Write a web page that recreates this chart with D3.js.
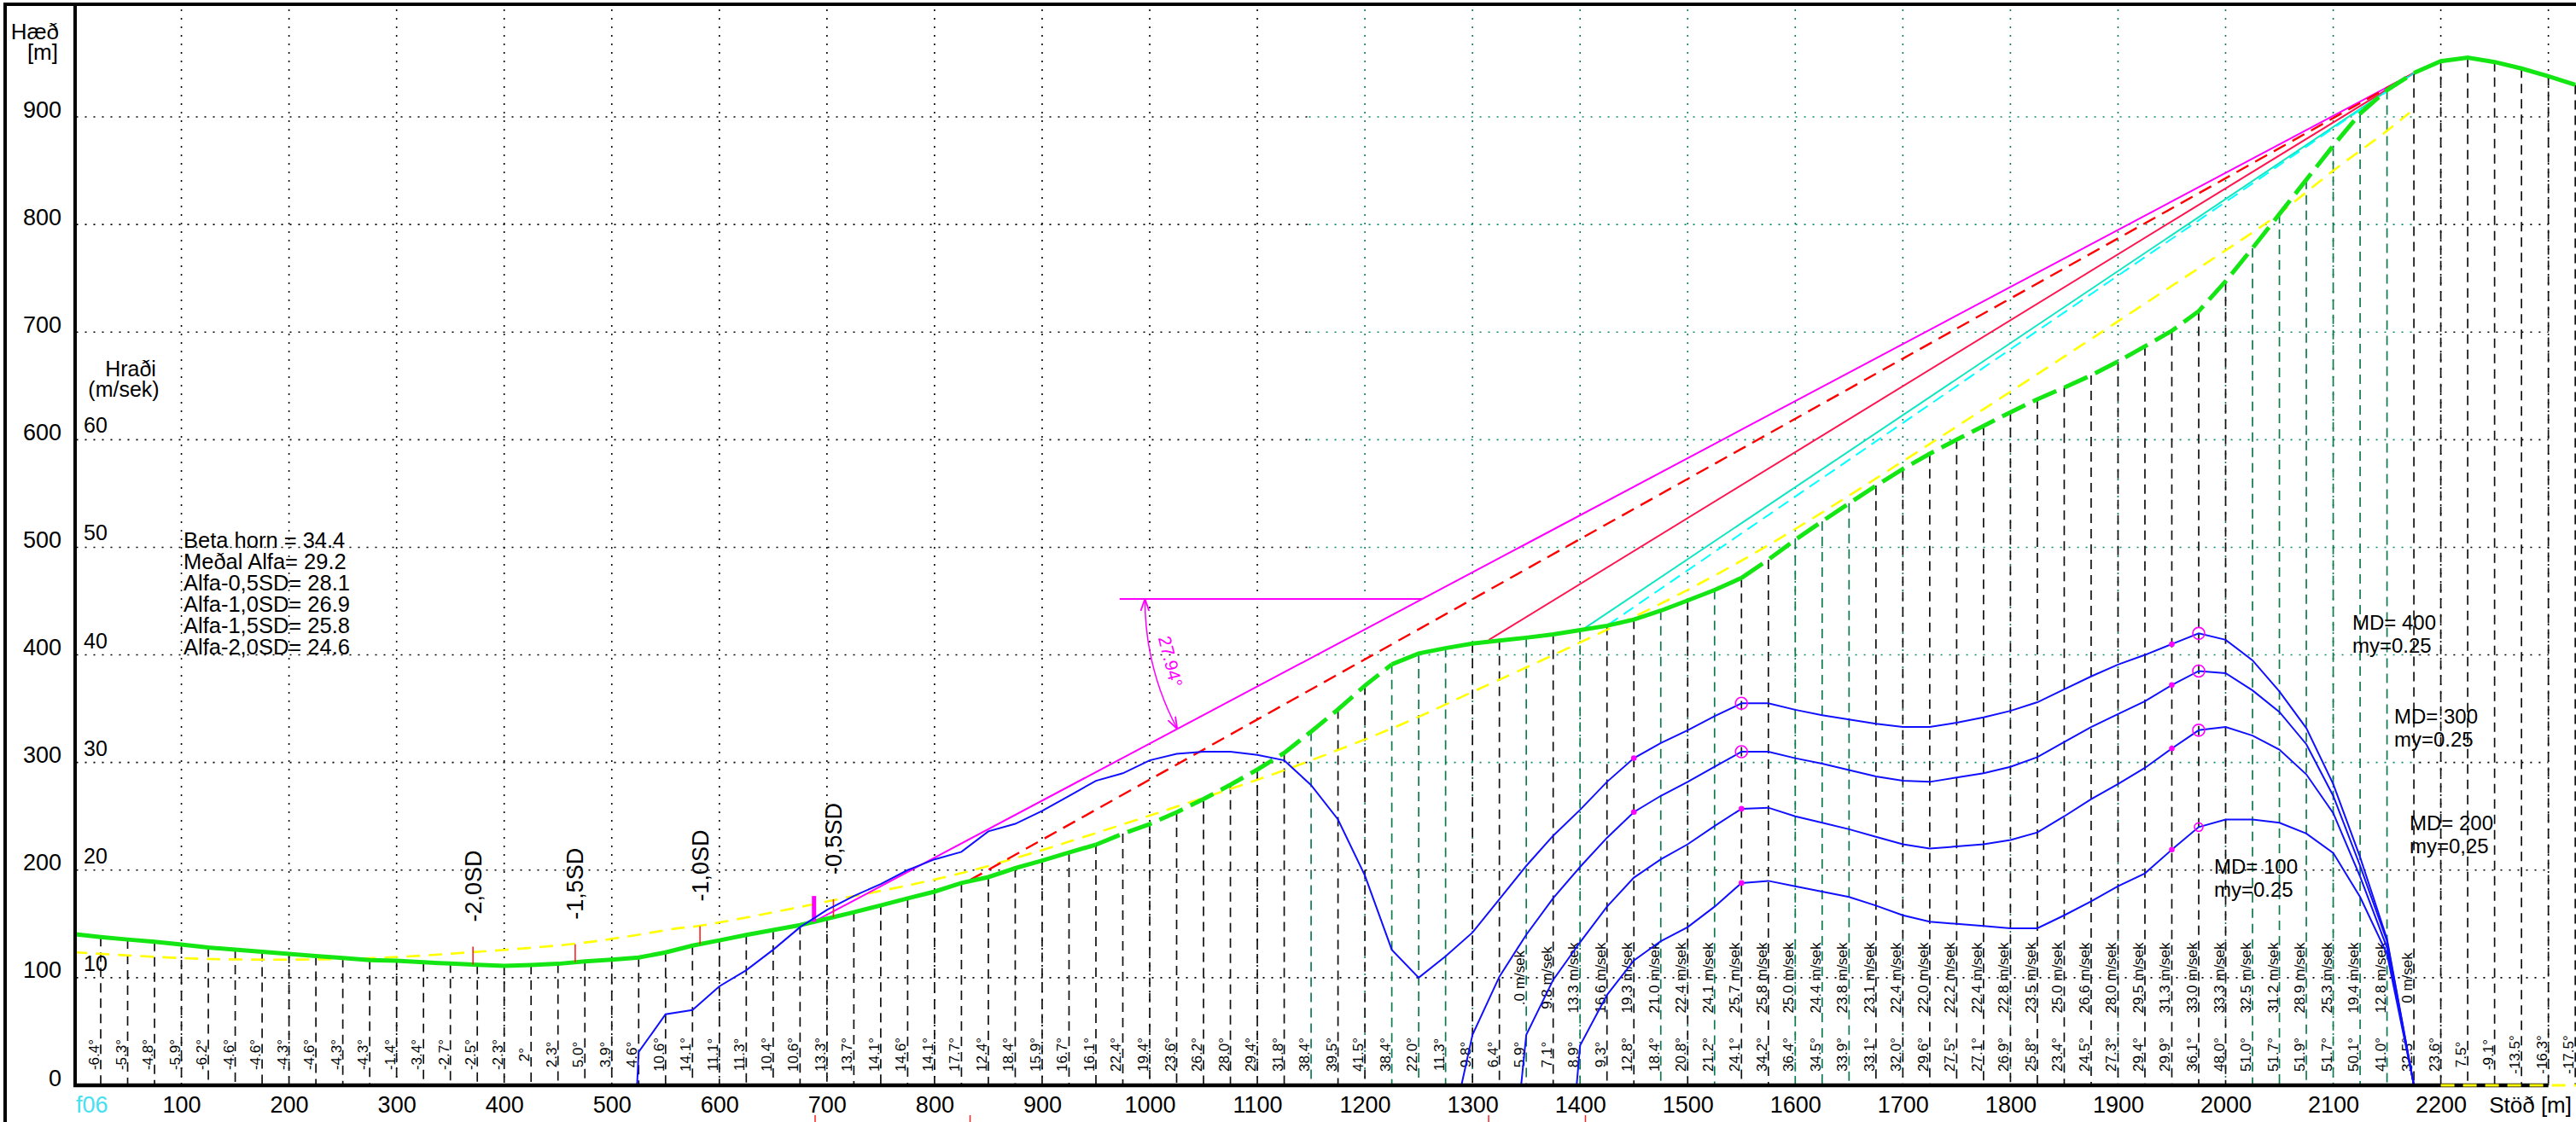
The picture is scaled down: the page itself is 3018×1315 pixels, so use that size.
<!DOCTYPE html>
<html>
<head>
<meta charset="utf-8">
<script src="https://cdn.jsdelivr.net/npm/d3@7"></script>
<style>
body{margin:0;background:#fff;}
svg{display:block;font-family:"Liberation Sans",Arial,sans-serif;}
</style>
</head>
<body>
<div id="chart"></div>
<script>
// profile: ground height every 25 m along the path (Stöð)
var stationStep = 25;
var groundH = [140.6,137.8,135.5,133.4,130.8,128.1,126.1,124.1,122.2,120.2,118.3,116.4,115.8,114.3,113.1,112.0,111.0,111.9,112.9,115.1,
  116.8,118.8,123.5,129.8,134.7,139.7,144.3,148.9,154.8,160.9,167.2,173.7,180.0,188.0,193.5,201.8,208.9,216.4,223.6,233.9,
  242.8,253.7,266.0,279.3,293.4,308.9,328.7,349.3,371.4,391.2,401.3,406.3,410.6,413.4,416.0,419.1,423.0,427.1,432.8,441.1,
  450.6,460.3,471.5,488.5,506.9,524.1,540.9,557.2,572.8,587.0,600.0,612.8,625.5,637.6,648.4,659.8,672.7,686.8,701.2,719.4,
  747.2,778.0,809.7,841.6,873.2,903.1,924.9,940.8,951.7,955.0,951.0,945.0,937.7,929.8];

// slope angle of each 25 m segment (labels at stations 25 .. 2325)
var slopeLabels = ["-6.4","-5.3","-4.8","-5.9","-6.2","-4.6","-4.6","-4.3","-4.6","-4.3","-4.3","-1.4","-3.4","-2.7","-2.5","-2.3","2","2.3","5.0","3.9",
  "4.6","10.6","14.1","11.1","11.3","10.4","10.6","13.3","13.7","14.1","14.6","14.1","17.7","12.4","18.4","15.9","16.7","16.1","22.4","19.4",
  "23.6","26.2","28.0","29.4","31.8","38.4","39.5","41.5","38.4","22.0","11.3","9.8","6.4","5.9","7.1","8.9","9.3","12.8","18.4","20.8",
  "21.2","24.1","34.2","36.4","34.5","33.9","33.1","32.0","29.6","27.5","27.1","26.9","25.8","23.4","24.5","27.3","29.4","29.9","36.1","48.0",
  "51.0","51.7","51.9","51.7","50.1","41.0","32.5","23.6","7.5","-9.1","-13.5","-16.3","-17.5"];

// speed labels (MD=200 curve) at stations 1350 .. 2175
var speedLabelStart = 1350;
var speedLabels = [".0","9.8","13.3","16.6","19.3","21.0","22.4","24.1","25.7","25.8","25.0","24.4","23.8","23.1","22.4","22.0","22.2","22.4",
  "22.8","23.5","25.0","26.6","28.0","29.5","31.3","33.0","33.3","32.5","31.2","28.9","25.3","19.4","12.8","0"];

// speed curves [station, m/s]
var speedMD400 = [[523.5,0],[525,3.1],[550,6.6],[575,7.0],[600,9.2],[625,10.7],[650,12.6],[675,14.7],[700,16.3],[725,17.6],[750,18.7],
  [775,20.0],[800,21.0],[825,21.7],[850,23.6],[875,24.3],[900,25.5],[925,26.9],[950,28.3],[975,29.0],[1000,30.2],[1025,30.8],[1050,31.0],
  [1075,31.0],[1100,30.7],[1125,30.2],[1150,27.9],[1175,24.7],[1200,19.5],[1225,12.6],[1250,10.0],[1275,12.0],[1300,14.2],[1325,17.3],
  [1350,20.4],[1375,23.2],[1400,25.6],[1425,28.2],[1450,30.4],[1475,31.8],[1500,33.0],[1525,34.3],[1550,35.5],[1575,35.5],[1600,34.9],
  [1625,34.4],[1650,34.0],[1675,33.6],[1700,33.3],[1725,33.3],[1750,33.7],[1775,34.2],[1800,34.8],[1825,35.6],[1850,36.8],[1875,38.0],
  [1900,39.1],[1925,40.0],[1950,41.0],[1975,42.0],[2000,41.4],[2025,39.5],[2050,36.6],[2075,33.2],[2100,28.0],[2125,21.2],[2150,13.6],[2175,0]];
var speedMD300 = [[1289.7,0],[1300,4.7],[1325,10.1],[1350,14.0],[1375,17.4],[1400,20.3],[1425,23.0],[1450,25.4],[1475,26.9],[1500,28.2],
  [1525,29.6],[1550,31.0],[1575,31.0],[1600,30.4],[1625,29.9],[1650,29.3],[1675,28.7],[1700,28.3],[1725,28.2],[1750,28.6],[1775,29.0],
  [1800,29.6],[1825,30.5],[1850,31.9],[1875,33.3],[1900,34.5],[1925,35.7],[1950,37.2],[1975,38.5],[2000,38.3],[2025,36.7],[2050,34.7],
  [2075,31.7],[2100,26.9],[2125,20.4],[2150,13.4],[2175,0]];
var speedMD200 = [[1345.2,0],[1350,4.7],[1375,9.8],[1400,13.3],[1425,16.6],[1450,19.3],[1475,21.0],[1500,22.4],[1525,24.1],[1550,25.7],
  [1575,25.8],[1600,25.0],[1625,24.4],[1650,23.8],[1675,23.1],[1700,22.4],[1725,22.0],[1750,22.2],[1775,22.4],[1800,22.8],[1825,23.5],
  [1850,25.0],[1875,26.6],[1900,28.0],[1925,29.5],[1950,31.3],[1975,33.0],[2000,33.3],[2025,32.5],[2050,31.2],[2075,28.9],[2100,25.3],
  [2125,19.4],[2150,12.8],[2175,0]];
var speedMD100 = [[1396.8,0],[1400,3.7],[1425,8.4],[1450,11.6],[1475,13.4],[1500,14.7],[1525,16.6],[1550,18.8],[1575,19.0],[1600,18.5],
  [1625,18.0],[1650,17.5],[1675,16.7],[1700,15.8],[1725,15.2],[1750,15.0],[1775,14.8],[1800,14.6],[1825,14.6],[1850,15.8],[1875,17.1],
  [1900,18.5],[1925,19.7],[1950,21.9],[1975,24.0],[2000,24.7],[2025,24.7],[2050,24.4],[2075,23.4],[2100,21.6],[2125,17.5],[2150,12.2],[2175,0]];

// parabola fitted to the profile [station, height]
var parabolaFit = [[0,123.7],[126,117.4],[270,118],[370,123.7],[466,131.6],[519,139],[559,145.6],[582,148.3],[706,172],[835,199.8],
  [1050,267.2],[1131,295],[1233,335],[1300,365.6],[1401,412],[1500,460.4],[1600,517],[1994,772],[2047,808],[2100,850],[2150,887],[2171,904]];

// lines from the top point (station 2175) at an angle, ending on the ground
var topStation = 2175;
var angleLines = [
  {angle:27.94, end:689},   // magenta
  {angle:29.2, end:833},    // Meðal Alfa
  {angle:31.5, end:1315},
  {angle:33.8, end:1405},
  {angle:34.4, end:1426}    // Beta
];

// runout positions of the alpha - n*SD lines
var sdLabels = ["-2,0SD","-1,5SD","-1,0SD","-0,5SD"];
var sdStations = [371,466,582,706];

var infoLines = ["Beta horn = 34.4","Meðal Alfa= 29.2","Alfa-0,5SD= 28.1","Alfa-1,0SD= 26.9","Alfa-1,5SD= 25.8","Alfa-2,0SD= 24.6"];
var mdLabels = ["MD= 400","MD= 300","MD= 200","MD= 100"];
var myLabels = ["my=0.25","my=0.25","my=0,25","my=0.25"];

var yTicks = [0,100,200,300,400,500,600,700,800,900];
var xTicks = [100,200,300,400,500,600,700,800,900,1000,1100,1200,1300,1400,1500,1600,1700,1800,1900,2000,2100,2200];
var speedTicks = [10,20,30,40,50,60];

function init(){
    var w = 3018, h = 1315;
    var stations = groundH.map(function(d,i){ return i*stationStep; });

    var xScale = d3.scaleLinear().domain([0,2300]).range([86.5, 86.5 + 2300*1.2605]);
    var yScale = d3.scaleLinear().domain([0,900]).range([1272,137]);
    var vScale = d3.scaleLinear().domain([0,90]).range([1272,137]); // 10 m/s = 100 m
    var groundAt = d3.scaleLinear().domain(stations).range(groundH);
    var x0 = xScale(0), xEnd = xScale(2300), yTop = 5, yBase = yScale(0);

    var svg = d3.select("#chart").append("svg")
        .attr("width", w).attr("height", h);

    var defs = svg.append("defs");
    defs.append("marker").attr("id","arr").attr("viewBox","0 0 10 10")
        .attr("refX",10).attr("refY",5).attr("markerUnits","userSpaceOnUse")
        .attr("markerWidth",14).attr("markerHeight",14).attr("orient","auto-start-reverse")
      .append("path").attr("d","M0,1.5L10,5L0,8.5").attr("fill","none")
        .attr("stroke","#ff00ff").attr("stroke-width",1.3);

    // dotted grid (teal part where the second profile frame overlaps)
    var tealFrom = xScale(1148), tealTo = xScale(2180);
    var grid = svg.append("g").attr("stroke-width",1.6).attr("stroke-dasharray","2,8").attr("fill","none");
    yTicks.slice(1).forEach(function(t){
        var yy = yScale(t);
        if(t >= 300){
            grid.append("line").attr("x1",x0+3).attr("x2",tealFrom).attr("y1",yy).attr("y2",yy).attr("stroke","#000");
            grid.append("line").attr("x1",tealFrom).attr("x2",tealTo).attr("y1",yy).attr("y2",yy).attr("stroke","#0a8c6c");
            grid.append("line").attr("x1",tealTo).attr("x2",xEnd).attr("y1",yy).attr("y2",yy).attr("stroke","#000");
        } else {
            grid.append("line").attr("x1",x0+3).attr("x2",xEnd).attr("y1",yy).attr("y2",yy).attr("stroke","#000");
        }
    });
    xTicks.concat([2300]).forEach(function(t){
        grid.append("line").attr("x1",xScale(t)).attr("x2",xScale(t)).attr("y1",yTop+6).attr("y2",yBase)
            .attr("stroke", (t >= 1200 && t <= 2100) ? "#0a7c5c" : "#000");
    });

    // drop lines from the ground at each station
    var greenDrops = [1150,1225,1250,1275,1350,1400,1475,1525,1600,1625,1650,2025,2050,2075,2100,2125,2150];
    svg.append("g").selectAll("line")
        .data(stations.slice(1)).enter().append("line")
        .attr("x1", function(d){ return xScale(d); })
        .attr("x2", function(d){ return xScale(d); })
        .attr("y1", function(d){ return yScale(groundAt(d)); })
        .attr("y2", yBase)
        .attr("stroke", function(d){ return greenDrops.indexOf(d) >= 0 ? "#0e7a4e" : "#111"; })
        .attr("stroke-width",1.7)
        .attr("stroke-dasharray","11,7");

    // slope angle labels
    svg.append("g").selectAll("text")
        .data(slopeLabels).enter().append("text")
        .attr("transform", function(d,i){ return "translate(" + (xScale((i+1)*stationStep)-2) + ",1236) rotate(-90)"; })
        .attr("text-anchor","middle").attr("font-size",17).attr("fill","#000")
        .text(function(d){ return d + "°"; });

    // speed labels
    svg.append("g").selectAll("text")
        .data(speedLabels).enter().append("text")
        .attr("transform", function(d,i){ return "translate(" + (xScale(speedLabelStart + i*stationStep)-2) + ",1146) rotate(-90)"; })
        .attr("text-anchor","middle").attr("font-size",17).attr("fill","#000")
        .text(function(d){ return d + " m/sek"; });

    // parabola
    svg.append("path").datum(parabolaFit)
        .attr("d", d3.line().curve(d3.curveCatmullRom)
            .x(function(d){ return xScale(d[0]); }).y(function(d){ return yScale(d[1]); }))
        .attr("fill","none").attr("stroke","#ffff00").attr("stroke-width",2.6).attr("stroke-dasharray","16,10");

    // angle lines from the top
    var topH = groundAt(topStation);
    var lineStyles = [
        {color:"#ff00ff", dash:null, width:2},
        {color:"#ff0000", dash:"16,9", width:2.4},
        {color:"#ff1450", dash:null, width:2},
        {color:"#10e6c0", dash:null, width:2},
        {color:"#00ffff", dash:"14,8", width:2}
    ];
    angleLines.forEach(function(l,i){
        var endH = topH - (topStation - l.end)*Math.tan(l.angle*Math.PI/180);
        svg.append("line")
            .attr("x1", xScale(l.end)).attr("y1", yScale(endH))
            .attr("x2", xScale(topStation)).attr("y2", yScale(topH))
            .attr("stroke", lineStyles[i].color).attr("stroke-width", lineStyles[i].width)
            .attr("stroke-dasharray", lineStyles[i].dash);
    });

    // angle construction: horizontal line and arc with the 27.94° label
    var mAngle = angleLines[0].angle;
    var hLevel = 452;
    var mTan = Math.tan(mAngle*Math.PI/180);
    var meetSt = angleLines[0].end + (hLevel - (topH - (topStation-angleLines[0].end)*mTan)) / mTan;
    svg.append("line").attr("x1",xScale(972)).attr("x2",xScale(meetSt))
        .attr("y1",yScale(hLevel)).attr("y2",yScale(hLevel))
        .attr("stroke","#ff00ff").attr("stroke-width",2);
    var cx = xScale(meetSt), cy = yScale(hLevel), r = 325, th = mAngle*Math.PI/180;
    var arc = d3.path();
    arc.moveTo(cx - r, cy);
    arc.arc(cx, cy, r, Math.PI, Math.PI - th, true);
    svg.append("path").attr("d", arc.toString()).attr("fill","none")
        .attr("stroke","#ff00ff").attr("stroke-width",1.5)
        .attr("marker-start","url(#arr)").attr("marker-end","url(#arr)");
    svg.append("text")
        .attr("transform","translate(" + (cx - 304*Math.cos(th/2)) + "," + (cy + 304*Math.sin(th/2)) + ") rotate(" + (90 - mAngle/2) + ")")
        .attr("text-anchor","middle").attr("dy","0.35em").attr("font-size",21).attr("fill","#ff00ff")
        .text(mAngle.toFixed(2) + "°");

    // ground profile: solid and dashed parts
    var groundPts = stations.map(function(s,i){ return [s, groundH[i]]; });
    var parts = [[0,950,null],[950,1225,"30,10"],[1225,1550,null],[1550,2175,"30,10"],[2175,2325,null]];
    var gLine = d3.line().x(function(d){ return xScale(d[0]); }).y(function(d){ return yScale(d[1]); });
    parts.forEach(function(p){
        svg.append("path")
            .datum(groundPts.filter(function(d){ return d[0] >= p[0] && d[0] <= p[1]; }))
            .attr("d", gLine).attr("fill","none")
            .attr("stroke","#14e614").attr("stroke-width",5)
            .attr("stroke-dasharray", p[2]);
    });

    // SD runout ticks and labels
    sdStations.forEach(function(s,i){
        var gy = yScale(groundAt(s));
        svg.append("line").attr("x1",xScale(s)).attr("x2",xScale(s)).attr("y1",gy).attr("y2",gy-21)
            .attr("stroke","#ff2020").attr("stroke-width",1.6);
        svg.append("text")
            .attr("transform","translate(" + xScale(s) + "," + (gy-50) + ") rotate(-90)")
            .attr("dy","0.35em").attr("font-size",27).attr("fill","#000")
            .text(sdLabels[i]);
    });
    // runout of the 27.94° line
    var mEnd = 688;
    svg.append("line").attr("x1",xScale(mEnd)).attr("x2",xScale(mEnd))
        .attr("y1",yScale(groundAt(mEnd))).attr("y2",yScale(groundAt(mEnd)+24))
        .attr("stroke","#ff00ff").attr("stroke-width",5);

    // speed curves
    var vLine = d3.line().x(function(d){ return xScale(d[0]); }).y(function(d){ return vScale(d[1]); });
    var curves = [speedMD400, speedMD300, speedMD200, speedMD100];
    svg.append("g").selectAll("path")
        .data(curves).enter().append("path")
        .attr("d", vLine).attr("fill","none").attr("stroke","#1010ff").attr("stroke-width",2);

    // magenta markers on the curves
    var markerSpec = [[1550,[7,7,2.5,2.5]],[1975,[7,7,7,5]],[1450,[2.5,2.5,0,0]],[1950,[2.5,2.5,2.5,2.5]]];
    markerSpec.forEach(function(m){
        curves.forEach(function(c,ci){
            var rr = m[1][ci];
            if(!rr) return;
            var p = c.filter(function(d){ return d[0] === m[0]; })[0];
            if(!p) return;
            svg.append("circle").attr("cx",xScale(p[0])).attr("cy",vScale(p[1])).attr("r",rr)
                .attr("fill", rr < 4 ? "#ff00ff" : "none").attr("stroke","#ff00ff").attr("stroke-width",1.6);
        });
    });

    // MD labels
    var mdPos = [[2756,738],[2805,848],[2823,973],[2594,1024]];
    mdLabels.forEach(function(t,i){
        svg.append("text").attr("x",mdPos[i][0]).attr("y",mdPos[i][1]).attr("font-size",24).text(t);
        svg.append("text").attr("x",mdPos[i][0]).attr("y",mdPos[i][1]+27).attr("font-size",24).text(myLabels[i]);
    });

    // info text
    svg.append("g").selectAll("text").data(infoLines).enter().append("text")
        .attr("x",215).attr("y",function(d,i){ return 642 + i*25; })
        .attr("font-size",25.5).text(function(d){ return d; });

    // frame and axes
    svg.append("line").attr("x1",4).attr("x2",w).attr("y1",yTop).attr("y2",yTop).attr("stroke","#000").attr("stroke-width",4);
    svg.append("line").attr("x1",6).attr("x2",6).attr("y1",yTop).attr("y2",h).attr("stroke","#000").attr("stroke-width",4);
    svg.append("line").attr("x1",88).attr("x2",88).attr("y1",yTop).attr("y2",yBase+2).attr("stroke","#000").attr("stroke-width",4);
    svg.append("line").attr("x1",86).attr("x2",xEnd).attr("y1",yBase).attr("y2",yBase).attr("stroke","#000").attr("stroke-width",4.5);
    svg.append("line").attr("x1",xScale(2200)).attr("x2",w).attr("y1",yBase).attr("y2",yBase)
        .attr("stroke","#ffff00").attr("stroke-width",3).attr("stroke-dasharray","16,10");

    // ticks below the axis where the lines reach the ground
    angleLines.slice(0,4).forEach(function(l){
        svg.append("line").attr("x1",xScale(l.end)).attr("x2",xScale(l.end)).attr("y1",1307).attr("y2",h)
            .attr("stroke","#ff2020").attr("stroke-width",1.5);
    });

    var yAxis = svg.append("g").attr("transform","translate(88,0)")
        .call(d3.axisLeft(yScale).tickValues(yTicks).tickSize(0).tickPadding(16));
    yAxis.select(".domain").remove();
    yAxis.selectAll("text").attr("dy","0").attr("font-size",27).attr("font-family","Liberation Sans, Arial, sans-serif").attr("fill","#000");

    var xAxis = svg.append("g").attr("transform","translate(0," + yBase + ")")
        .call(d3.axisBottom(xScale).tickValues(xTicks).tickSize(0).tickPadding(13).tickFormat(d3.format("d")));
    xAxis.select(".domain").remove();
    xAxis.selectAll("text").attr("font-size",27).attr("font-family","Liberation Sans, Arial, sans-serif").attr("fill","#000");

    // speed axis labels (10 m/s per 100 m)
    svg.append("g").selectAll("text").data(speedTicks).enter().append("text")
        .attr("x",98).attr("y",function(d){ return vScale(d) - 8; })
        .attr("font-size",25).text(function(d){ return d; });

    svg.append("text").attr("x",69).attr("y",46).attr("text-anchor","end").attr("font-size",26).text("Hæð");
    svg.append("text").attr("x",68).attr("y",70).attr("text-anchor","end").attr("font-size",26).text("[m]");
    svg.append("text").attr("x",153).attr("y",441).attr("text-anchor","middle").attr("font-size",25).text("Hraði");
    svg.append("text").attr("x",145).attr("y",465).attr("text-anchor","middle").attr("font-size",25).text("(m/sek)");
    svg.append("text").attr("x",89).attr("y",1304).attr("font-size",27).attr("fill","#48e0f0").text("f06");
    svg.append("text").attr("x",3013).attr("y",1304).attr("text-anchor","end").attr("font-size",26).text("Stöð [m]");
}
window.onload = init;
</script>
</body>
</html>
